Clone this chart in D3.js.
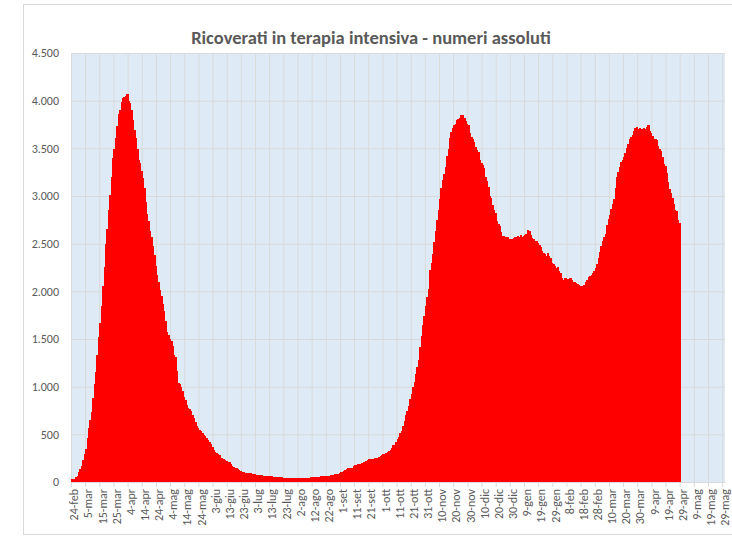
<!DOCTYPE html>
<html>
<head>
<meta charset="utf-8">
<script src="https://cdn.jsdelivr.net/npm/d3@7"></script>
<style>
  body { margin: 0; background: #fff; }
  svg { display: block; }
  .axis text { font-family: Carlito, Calibri, Lato, sans-serif; font-size: 12px; fill: #595959; }
  .title { font-family: Carlito, Calibri, Lato, sans-serif; font-weight: bold; font-size: 18.5px; fill: #595959; }
</style>
</head>
<body>
<div id="chart"></div>
<script>
// ricoverati in terapia intensiva, un valore al giorno a partire dal 24-feb-2020
const feb2020 = [27, 35, 36, 56, 64, 105];
const mar2020 = [140, 166, 229, 295, 351, 462, 567, 650, 733, 877, 1028, 1153, 1328, 1518, 1672, 1851, 2060, 2257, 2498, 2655, 2857, 3009, 3204, 3396, 3489, 3612, 3732, 3856, 3906, 3981, 4023];
const apr2020 = [4035, 4053, 4068, 3994, 3977, 3898, 3792, 3693, 3605, 3497, 3381, 3343, 3260, 3186, 3079, 2936, 2812, 2733, 2635, 2573, 2471, 2384, 2267, 2173, 2102, 2009, 1956, 1863, 1795, 1694];
const mag2020 = [1578, 1539, 1501, 1479, 1427, 1333, 1311, 1168, 1034, 1027, 999, 952, 893, 855, 808, 775, 762, 740, 705, 676, 630, 590, 565, 548, 530, 515, 498, 480, 460, 440, 420];
const giu2020 = [400, 370, 340, 318, 300, 290, 283, 255, 250, 240, 230, 222, 213, 205, 185, 168, 160, 152, 145, 135, 125, 115, 107, 103, 98, 95, 93, 91, 90, 88];
const lug2020 = [82, 79, 77, 74, 72, 71, 69, 68, 67, 65, 64, 62, 62, 60, 57, 54, 53, 51, 50, 49, 48, 47, 46, 44, 43, 42, 41, 40, 40, 41, 41];
const ago2020 = [42, 41, 40, 42, 41, 43, 42, 43, 45, 45, 49, 50, 51, 54, 55, 56, 56, 58, 59, 60, 63, 64, 65, 66, 69, 71, 74, 79, 83, 86, 94];
const set2020 = [107, 109, 120, 121, 133, 142, 143, 150, 152, 164, 174, 175, 187, 188, 190, 201, 207, 214, 222, 232, 239, 244, 246, 246, 247, 254, 254, 264, 271, 280];
const ott2020 = [291, 297, 303, 319, 323, 337, 358, 387, 390, 420, 452, 470, 514, 539, 586, 638, 705, 750, 797, 870, 926, 992, 1049, 1128, 1208, 1284, 1411, 1536, 1651, 1746, 1843];
const nov2020 = [1939, 2022, 2225, 2292, 2391, 2515, 2634, 2749, 2849, 2971, 3081, 3170, 3230, 3306, 3422, 3492, 3612, 3670, 3712, 3748, 3758, 3801, 3810, 3816, 3848, 3846, 3816, 3782, 3753, 3744];
const dic2020 = [3663, 3616, 3597, 3567, 3517, 3487, 3459, 3382, 3345, 3320, 3291, 3199, 3158, 3095, 3003, 2983, 2906, 2855, 2819, 2743, 2705, 2687, 2624, 2585, 2579, 2575, 2572, 2565, 2549, 2528, 2553];
const gen2021 = [2555, 2569, 2571, 2579, 2569, 2587, 2570, 2579, 2588, 2602, 2643, 2636, 2587, 2557, 2548, 2522, 2523, 2503, 2487, 2461, 2418, 2400, 2390, 2372, 2399, 2372, 2352, 2302, 2289, 2270, 2247];
const feb2021 = [2252, 2215, 2192, 2143, 2120, 2135, 2142, 2128, 2121, 2143, 2124, 2100, 2095, 2089, 2079, 2070, 2054, 2042, 2052, 2070, 2094, 2120, 2146, 2157, 2168, 2194, 2214, 2245];
const mar2021 = [2289, 2351, 2411, 2475, 2525, 2571, 2600, 2700, 2756, 2800, 2859, 2914, 2970, 3080, 3200, 3256, 3300, 3357, 3380, 3410, 3448, 3506, 3546, 3602, 3623, 3638, 3679, 3710, 3721, 3704, 3716];
const apr2021 = [3681, 3699, 3714, 3703, 3720, 3743, 3683, 3663, 3625, 3588, 3603, 3585, 3526, 3490, 3468, 3410, 3340, 3311, 3244, 3151, 3076, 3034, 2979, 2911, 2853, 2838, 2748, 2714];

// etichette dell'asse x, una ogni 10 giorni
const tickLabels = ["24-feb", "5-mar", "15-mar", "25-mar", "4-apr", "14-apr", "24-apr", "4-mag", "14-mag", "24-mag",
  "3-giu", "13-giu", "23-giu", "3-lug", "13-lug", "23-lug", "2-ago", "12-ago", "22-ago", "1-set", "11-set", "21-set",
  "1-ott", "11-ott", "21-ott", "31-ott", "10-nov", "20-nov", "30-nov", "10-dic", "20-dic", "30-dic", "9-gen", "19-gen",
  "29-gen", "8-feb", "18-feb", "28-feb", "10-mar", "20-mar", "30-mar", "9-apr", "19-apr", "29-apr", "9-mag", "19-mag", "29-mag"];
const yTicks = [0, 500, 1000, 1500, 2000, 2500, 3000, 3500, 4000, 4500];
const title = "Ricoverati in terapia intensiva - numeri assoluti";

const values = [].concat(feb2020, mar2020, apr2020, mag2020, giu2020, lug2020, ago2020, set2020, ott2020, nov2020, dic2020,
  gen2021, feb2021, mar2021, apr2021);
const data = values.map((v, i) => ({ day: i, value: v }));

const width = 732, height = 542;
const margin = { top: 53, right: 7, bottom: 60, left: 71 };
const innerWidth = width - margin.left - margin.right;
const innerHeight = height - margin.top - margin.bottom;

const it = d3.formatLocale({ decimal: ",", thousands: ".", grouping: [3], currency: ["€", ""] });
const fmt = it.format(",d");

const svg = d3.select("#chart").append("svg").attr("width", width).attr("height", height);

// bordo dell'area del grafico
svg.append("rect").attr("x", 23.5).attr("y", 4.5).attr("width", 730).attr("height", 530)
  .attr("fill", "#fff").attr("stroke", "#d9d9d9");

svg.append("text").attr("class", "title").attr("x", 371).attr("y", 44)
  .attr("text-anchor", "middle").text(title);

const x = d3.scaleLinear().domain([0, 462]).range([0, innerWidth]);
const y = d3.scaleLinear().domain([0, 4500]).range([innerHeight, 0]);

const g = svg.append("g").attr("transform", "translate(" + margin.left + "," + margin.top + ")");

g.append("rect").attr("width", innerWidth).attr("height", innerHeight).attr("fill", "#deebf7");

const xTickValues = tickLabels.map((d, i) => i * 10);

// griglia
g.append("g").attr("class", "grid")
  .call(d3.axisLeft(y).tickValues(yTicks).tickSize(-innerWidth).tickFormat(""))
  .call(s => s.select(".domain").remove())
  .call(s => s.selectAll("line").attr("stroke", "#d9d9d9"));
g.append("g").attr("class", "grid")
  .call(d3.axisBottom(x).tickValues(xTickValues).tickSize(innerHeight).tickFormat(""))
  .call(s => s.select(".domain").remove())
  .call(s => s.selectAll("line").attr("stroke", "#d9d9d9"));

// barre giornaliere (senza spazio tra una e l'altra)
g.append("g").attr("shape-rendering", "crispEdges")
  .selectAll("rect").data(data).join("rect")
  .attr("x", d => x(d.day))
  .attr("width", d => x(d.day + 1) - x(d.day) + 1)
  .attr("y", d => y(d.value))
  .attr("height", d => y(0) - y(d.value))
  .attr("fill", "#ff0000");

const yAxis = g.append("g").attr("class", "y axis")
  .call(d3.axisLeft(y).tickValues(yTicks).tickSize(0).tickPadding(12).tickFormat(fmt));
yAxis.select(".domain").remove();

const xAxis = g.append("g").attr("class", "x axis").attr("transform", "translate(0," + innerHeight + ")")
  .call(d3.axisBottom(x).tickValues(xTickValues).tickSizeInner(5).tickSizeOuter(0)
    .tickFormat((d, i) => tickLabels[i]));
xAxis.select(".domain").attr("stroke", "#d9d9d9");
xAxis.selectAll("line").attr("stroke", "#d9d9d9");
xAxis.selectAll("text")
  .attr("transform", "rotate(-90)")
  .attr("x", -7).attr("y", 2.5).attr("dy", "0.35em")
  .style("text-anchor", "end");
</script>
</body>
</html>
